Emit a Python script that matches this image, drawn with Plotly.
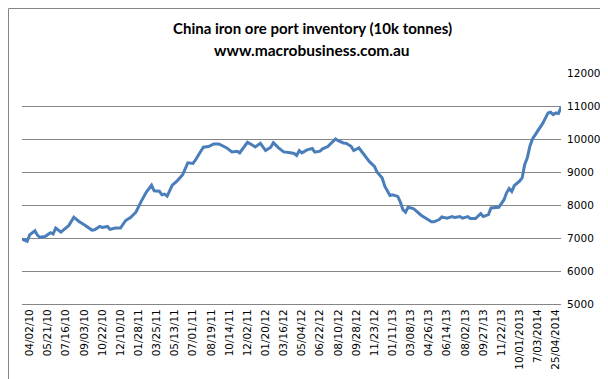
import plotly.graph_objects as go

# Week index (0 = first observation) and inventory (10k tonnes)
week_index = [0, 2, 3, 5, 6, 7, 9, 11, 12, 13, 15, 16, 18, 20, 22, 24, 27, 28, 30, 31, 33, 34, 36, 38, 40, 42,
              44, 46, 48, 50, 51, 53, 54, 55, 56, 58, 60, 62, 64, 66, 67, 69, 70, 72, 74, 76, 78, 79, 81, 83,
              84, 87, 89, 90, 92, 94, 96, 97, 99, 101, 103, 105, 106, 107, 108, 110, 112, 113, 115, 116, 118,
              120, 121, 122, 124, 125, 127, 128, 130, 131, 132, 134, 136, 137, 139, 140, 142, 143, 145, 146,
              147, 148, 149, 151, 152, 154, 156, 158, 159, 161, 162, 164, 166, 167, 169, 170, 172, 173, 175,
              177, 178, 180, 181, 182, 184, 186, 187, 188, 189, 190, 192, 193, 194, 195, 196, 197, 199, 201,
              203, 204, 205, 206, 207, 208]
inventory = [6970, 6900, 7100, 7220, 7080, 7020, 7050, 7160, 7120, 7300, 7180, 7240, 7370, 7630, 7500, 7400,
             7240, 7250, 7350, 7320, 7350, 7260, 7300, 7300, 7530, 7630, 7790, 8110, 8390, 8600, 8430, 8420,
             8310, 8330, 8270, 8600, 8740, 8920, 9280, 9260, 9370, 9630, 9750, 9770, 9850, 9850, 9770, 9730,
             9610, 9630, 9580, 9900, 9810, 9760, 9870, 9650, 9750, 9890, 9730, 9610, 9590, 9560, 9500, 9650,
             9580, 9670, 9710, 9600, 9630, 9700, 9770, 9910, 10000, 9950, 9880, 9870, 9780, 9650, 9730, 9630,
             9530, 9320, 9170, 9000, 8820, 8570, 8290, 8310, 8260, 8090, 7860, 7780, 7930, 7890, 7830, 7690,
             7590, 7490, 7490, 7560, 7640, 7600, 7650, 7620, 7650, 7600, 7650, 7590, 7590, 7740, 7650, 7710,
             7910, 7910, 7930, 8160, 8370, 8500, 8410, 8590, 8720, 8820, 9230, 9430, 9780, 10000, 10230,
             10480, 10790, 10810, 10740, 10790, 10770, 10960]

tick_labels = ["04/02/10", "05/21/10", "07/16/10", "09/03/10", "10/22/10", "12/10/10", "01/28/11",
               "03/25/11", "05/13/11", "07/01/11", "08/19/11", "10/14/11", "12/02/11", "01/20/12",
               "03/16/12", "05/04/12", "06/22/12", "08/10/12", "09/28/12", "11/23/12", "01/11/13",
               "03/08/13", "04/26/13", "06/14/13", "08/02/13", "09/27/13", "11/22/13", "10/01/2013",
               "7/03/2014", "25/04/2014"]
tick_weeks = [3 + 7 * k for k in range(len(tick_labels))]

W, H = 608, 379
L, R, T, B = 14, 55, 65, 83
pw, ph = W - L - R, H - T - B

fig = go.Figure()
fig.add_trace(go.Scatter(x=week_index, y=inventory, mode="lines",
                         line=dict(color="#4A7EBB", width=3), hoverinfo="skip"))

grid = "#868686"
fig.update_layout(
    width=W, height=H,
    margin=dict(l=L, r=R, t=T, b=B),
    paper_bgcolor="white", plot_bgcolor="white",
    showlegend=False,
    font=dict(family="DejaVu Sans", size=10.5, color="#000000"),
    xaxis=dict(range=[0, 208], tickmode="array", tickvals=tick_weeks, ticktext=tick_labels,
               tickangle=-90, showgrid=False, zeroline=False, showline=True, linecolor=grid,
               linewidth=1, ticks="",
               tickfont=dict(family="DejaVu Sans", size=10.5, color="#000000")),
    yaxis=dict(range=[5000, 12000], dtick=1000, tickformat="d", side="right", showgrid=True,
               gridcolor=grid, gridwidth=1, zeroline=False, showline=False, ticks="outside",
               ticklen=3, tickcolor="rgba(0,0,0,0)",
               tickfont=dict(family="DejaVu Sans", size=10.5, color="#000000")),
)

def px_to_paper_x(px):
    return (px - L) / pw

def py_to_paper_y(py):
    return (H - B - py) / ph

fig.add_annotation(text="<b>China iron ore port inventory (10k tonnes)</b>", xref="paper", yref="paper",
                   x=px_to_paper_x(304), y=py_to_paper_y(20), xanchor="center", yanchor="middle",
                   showarrow=False, font=dict(family="Lato", size=15, color="#000000"))
fig.add_annotation(text="<b>www.macrobusiness.com.au</b>", xref="paper", yref="paper",
                   x=px_to_paper_x(304), y=py_to_paper_y(42), xanchor="center", yanchor="middle",
                   showarrow=False, font=dict(family="Lato", size=15.5, color="#000000"))

fig.add_shape(type="rect", xref="paper", yref="paper",
              x0=px_to_paper_x(0.5), x1=px_to_paper_x(606.5),
              y0=py_to_paper_y(378), y1=py_to_paper_y(0.5),
              line=dict(color="#868686", width=1), fillcolor="rgba(0,0,0,0)", layer="above")

fig.write_html("out.html")
